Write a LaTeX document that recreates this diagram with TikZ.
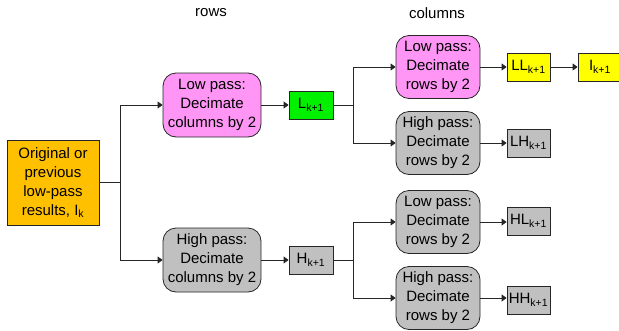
\documentclass[tikz,border=0pt]{standalone}
\usepackage{fontspec}
\setmainfont{Liberation Sans}
\usetikzlibrary{arrows.meta}
\definecolor{origfill}{RGB}{255,192,0}
\definecolor{pinkfill}{RGB}{255,150,245}
\definecolor{greyfill}{RGB}{192,192,192}
\definecolor{greenfill}{RGB}{0,240,0}
\definecolor{yellowfill}{RGB}{255,255,0}
\newcommand{\sbs}[1]{\textsubscript{#1}}
\tikzset{
  base/.style={draw=black!85, line width=0.8pt, inner sep=0pt, align=center,
    font=\fontsize{15}{19}\selectfont},
  filterbox/.style={base, rounded corners=13pt, minimum width=98pt, minimum height=64pt},
  rowbox/.style={filterbox, minimum width=84pt, minimum height=63pt},
  resbox/.style={base, minimum width=44pt, minimum height=28pt},
  link/.style={draw=black!85, line width=0.8pt},
  arr/.style={link, -{Triangle[length=5pt,width=7pt]}},
  lbl/.style={font=\fontsize{15}{19}\selectfont}
}
\begin{document}
\begin{tikzpicture}[x=1pt,y=-1pt]
\useasboundingbox (0,0) rectangle (619,330);

\node[lbl] (trows) at (211,13) {rows};
\node[lbl] (tcols) at (437,13) {columns};

\node[base, fill=origfill, minimum width=92pt, minimum height=85pt] (orig) at (53,182.5)
  {Original or\\previous\\low-pass\\results, I\sbs{k}};

\node[filterbox, fill=pinkfill] (lpc) at (212,105) {Low pass:\\Decimate\\columns by 2};
\node[filterbox, fill=greyfill] (hpc) at (212,260) {High pass:\\Decimate\\columns by 2};

\node[resbox, fill=greenfill] (L) at (311,105) {L\sbs{k+1}};
\node[resbox, fill=greyfill] (H) at (311,260) {H\sbs{k+1}};

\node[rowbox, fill=pinkfill] (lpr1) at (438,67) {Low pass:\\Decimate\\rows by 2};
\node[rowbox, fill=greyfill] (hpr1) at (438,143) {High pass:\\Decimate\\rows by 2};
\node[rowbox, fill=greyfill] (lpr2) at (438,222) {Low pass:\\Decimate\\rows by 2};
\node[rowbox, fill=greyfill] (hpr2) at (438,298) {High pass:\\Decimate\\rows by 2};

\node[resbox, fill=yellowfill, minimum width=43pt] (LL) at (528.5,67) {LL\sbs{k+1}};
\node[resbox, fill=yellowfill] (I) at (600,67) {I\sbs{k+1}};
\node[resbox, fill=greyfill, minimum width=43pt] (LH) at (528.5,143) {LH\sbs{k+1}};
\node[resbox, fill=greyfill, minimum width=43pt] (HL) at (528.5,221) {HL\sbs{k+1}};
\node[resbox, fill=greyfill, minimum width=43pt] (HH) at (528.5,300) {HH\sbs{k+1}};

% branch points
\coordinate (b0) at (120,182.5);
\coordinate (bL) at (353,105);
\coordinate (bH) at (353,260);

\draw[link] (orig.east) -- (b0);
\draw[arr] (b0) |- (lpc.west);
\draw[arr] (b0) |- (hpc.west);
\draw[arr] (lpc.east) -- (L.west);
\draw[arr] (hpc.east) -- (H.west);

\draw[link] (L.east) -- (bL);
\draw[arr] (bL) |- (lpr1.west);
\draw[arr] (bL) |- (hpr1.west);
\draw[link] (H.east) -- (bH);
\draw[arr] (bH) |- (lpr2.west);
\draw[arr] (bH) |- (hpr2.west);

\draw[arr] (lpr1.east) -- (LL.west);
\draw[arr] (LL.east) -- (I.west);
\draw[arr] (hpr1.east) -- (LH.west);
\draw[arr] (lpr2.east) -- (lpr2.east -| HL.west);
\draw[arr] (hpr2.east) -- (hpr2.east -| HH.west);
\end{tikzpicture}
\end{document}
